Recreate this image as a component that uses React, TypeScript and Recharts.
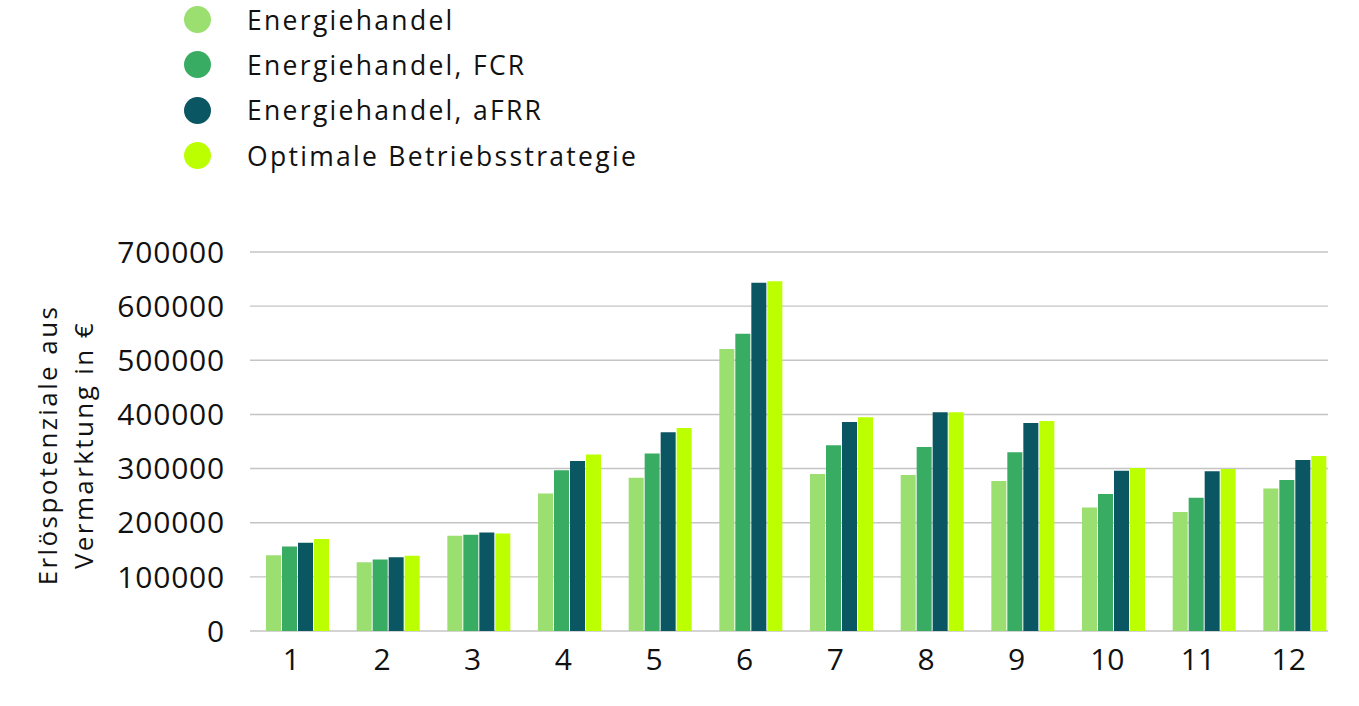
import React from 'react';
import {
  BarChart,
  Bar,
  XAxis,
  YAxis,
  CartesianGrid,
} from 'recharts';

const months = ['1', '2', '3', '4', '5', '6', '7', '8', '9', '10', '11', '12'];

const energiehandel = [140000, 127000, 176000, 254000, 283000, 521000, 290000, 288000, 277000, 228000, 220000, 263000];
const energiehandelFcr = [156000, 132000, 178000, 297000, 328000, 549000, 343000, 340000, 330000, 253000, 246000, 279000];
const energiehandelAfrr = [163000, 136000, 182000, 314000, 367000, 643000, 386000, 404000, 384000, 296000, 295000, 316000];
const optimal = [170000, 139000, 180000, 326000, 375000, 646000, 395000, 404000, 388000, 301000, 299000, 323000];

const yTicks = [0, 100000, 200000, 300000, 400000, 500000, 600000, 700000];

const seriesDefs = [
  { key: 'eh', name: 'Energiehandel', color: '#9ADF6F' },
  { key: 'fcr', name: 'Energiehandel, FCR', color: '#38AC62' },
  { key: 'afrr', name: 'Energiehandel, aFRR', color: '#0B5663' },
  { key: 'opt', name: 'Optimale Betriebsstrategie', color: '#BCFF00' },
];

const data = months.map((m, i) => ({
  month: m,
  eh: energiehandel[i],
  fcr: energiehandelFcr[i],
  afrr: energiehandelAfrr[i],
  opt: optimal[i],
}));

const FONT = '"Open Sans", sans-serif';

function LegendList() {
  return (
    <div style={{ position: 'absolute', left: 184, top: -3, fontFamily: FONT }}>
      {seriesDefs.map((s) => (
        <div
          key={s.key}
          style={{ display: 'flex', alignItems: 'center', height: 45.3 }}
        >
          <span
            style={{
              width: 27,
              height: 27,
              borderRadius: '50%',
              background: s.color,
              display: 'inline-block',
            }}
          />
          <span
            style={{
              marginLeft: 36,
              fontSize: 26.5,
              letterSpacing: 2.3,
              color: '#111',
            }}
          >
            {s.name}
          </span>
        </div>
      ))}
    </div>
  );
}

function AxisTitle() {
  const cx = 65;
  const cy = 445;
  return (
    <text
      transform={`rotate(-90, ${cx}, ${cy})`}
      textAnchor="middle"
      dominantBaseline="central"
      fontFamily={FONT}
      fontSize={26}
      letterSpacing={2.4}
      fill="#111"
    >
      <tspan x={cx} y={cy - 18}>Erlöspotenziale aus</tspan>
      <tspan x={cx} y={cy + 18}>Vermarktung in €</tspan>
    </text>
  );
}

export default function App() {
  return (
    <div style={{ position: 'relative', width: 1359, height: 706 }}>
      <style>{'body{margin:0}'}</style>
      <BarChart
        width={1359}
        height={706}
        data={data}
        margin={{ top: 252, right: 18, bottom: 45, left: 0 }}
        barCategoryGap={13}
        barGap={1}
      >
        <CartesianGrid
          vertical={false}
          stroke="#c4c4c4"
          strokeWidth={1.4}
          x={250}
          width={1078}
        />
        <XAxis
          dataKey="month"
          height={30}
          axisLine={false}
          tickLine={false}
          tickMargin={12}
          tick={{ fontFamily: FONT, fontSize: 30, fill: '#111', dx: -7 }}
          interval={0}
        />
        <YAxis
          width={253}
          domain={[0, 700000]}
          ticks={yTicks}
          interval={0}
          axisLine={false}
          tickLine={false}
          tickSize={0}
          tickMargin={28}
          tick={{ fontFamily: FONT, fontSize: 30, fill: '#111', letterSpacing: 0.8 }}
          label={<AxisTitle />}
        />
        {seriesDefs.map((s) => (
          <Bar
            key={s.key}
            dataKey={s.key}
            name={s.name}
            fill={s.color}
            isAnimationActive={false}
          />
        ))}
      </BarChart>
      <LegendList />
    </div>
  );
}
